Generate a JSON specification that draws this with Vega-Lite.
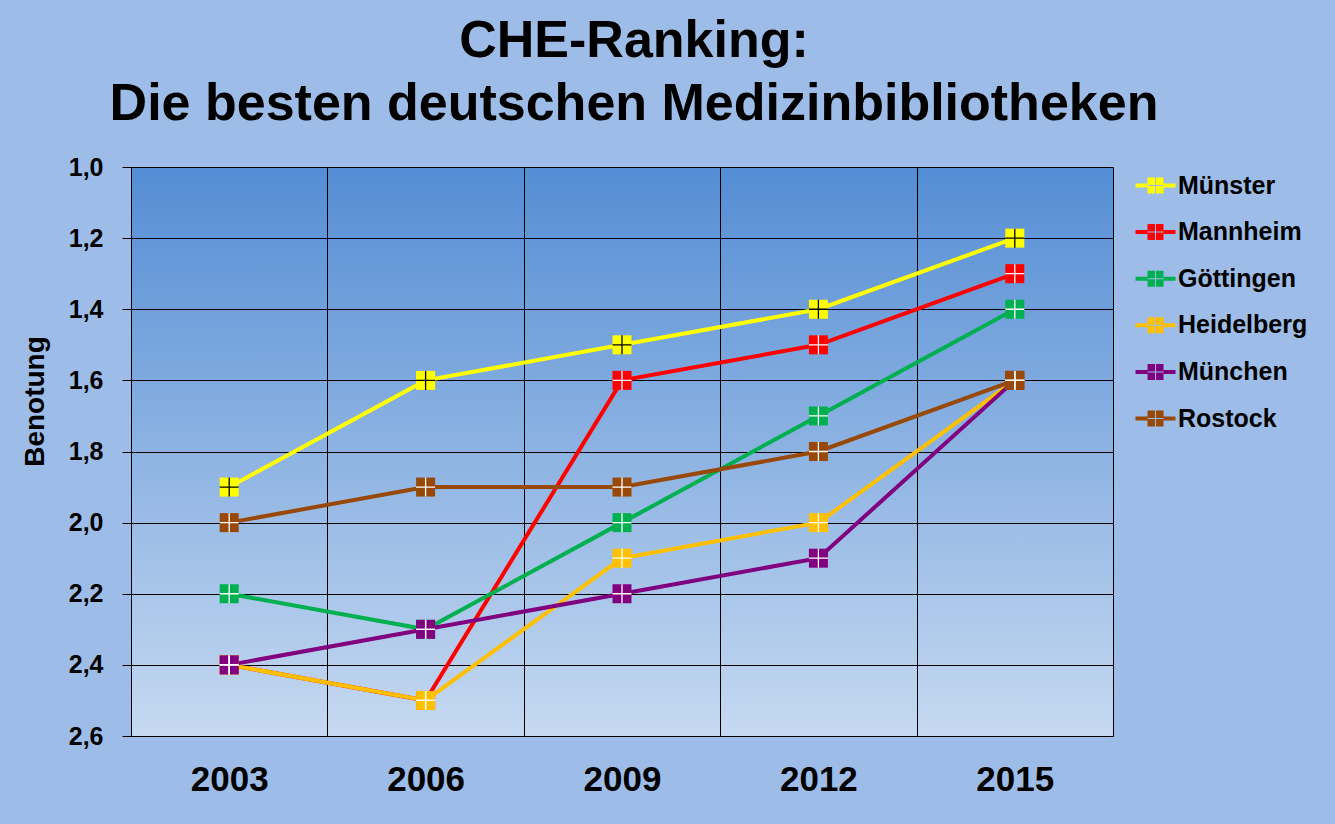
{
  "$schema": "https://vega.github.io/schema/vega-lite/v6.json",
  "autosize": {"type": "none"},
  "padding": {"left": 131, "top": 167, "right": 222, "bottom": 88},
  "width": 982,
  "height": 569,
  "background": "#9dbde8",
  "title": {
    "text": ["CHE-Ranking:", "Die besten deutschen Medizinbibliotheken"],
    "font": "Liberation Sans",
    "fontSize": 52,
    "fontWeight": "bold",
    "lineHeight": 63,
    "color": "black",
    "anchor": "middle",
    "frame": "group",
    "dx": 12,
    "offset": 24
  },
  "config": {
    "view": {
      "stroke": "#808080",
      "strokeWidth": 1,
      "fill": {
        "gradient": "linear",
        "x1": 0, "y1": 0, "x2": 0, "y2": 1,
        "stops": [
          {"offset": 0, "color": "#548dd4"},
          {"offset": 1, "color": "#c6d9f1"}
        ]
      }
    },
    "axis": {
      "labelFont": "Liberation Sans",
      "titleFont": "Liberation Sans",
      "labelColor": "black",
      "titleColor": "black",
      "gridColor": "black",
      "gridOpacity": 1,
      "gridWidth": 1,
      "domainColor": "black",
      "tickColor": "black"
    },
    "legend": {
      "labelFont": "Liberation Sans"
    }
  },
  "data": {
    "values": [
      {"city": "Münster", "year": "2003", "note": 1.9},
      {"city": "Münster", "year": "2006", "note": 1.6},
      {"city": "Münster", "year": "2009", "note": 1.5},
      {"city": "Münster", "year": "2012", "note": 1.4},
      {"city": "Münster", "year": "2015", "note": 1.2},
      {"city": "Mannheim", "year": "2003", "note": 2.4},
      {"city": "Mannheim", "year": "2006", "note": 2.5},
      {"city": "Mannheim", "year": "2009", "note": 1.6},
      {"city": "Mannheim", "year": "2012", "note": 1.5},
      {"city": "Mannheim", "year": "2015", "note": 1.3},
      {"city": "Göttingen", "year": "2003", "note": 2.2},
      {"city": "Göttingen", "year": "2006", "note": 2.3},
      {"city": "Göttingen", "year": "2009", "note": 2.0},
      {"city": "Göttingen", "year": "2012", "note": 1.7},
      {"city": "Göttingen", "year": "2015", "note": 1.4},
      {"city": "Heidelberg", "year": "2003", "note": 2.4},
      {"city": "Heidelberg", "year": "2006", "note": 2.5},
      {"city": "Heidelberg", "year": "2009", "note": 2.1},
      {"city": "Heidelberg", "year": "2012", "note": 2.0},
      {"city": "Heidelberg", "year": "2015", "note": 1.6},
      {"city": "München", "year": "2003", "note": 2.4},
      {"city": "München", "year": "2006", "note": 2.3},
      {"city": "München", "year": "2009", "note": 2.2},
      {"city": "München", "year": "2012", "note": 2.1},
      {"city": "München", "year": "2015", "note": 1.6},
      {"city": "Rostock", "year": "2003", "note": 2.0},
      {"city": "Rostock", "year": "2006", "note": 1.9},
      {"city": "Rostock", "year": "2009", "note": 1.9},
      {"city": "Rostock", "year": "2012", "note": 1.8},
      {"city": "Rostock", "year": "2015", "note": 1.6}
    ]
  },
  "encoding": {
    "x": {
      "field": "year",
      "type": "ordinal",
      "scale": {"type": "band", "paddingInner": 0, "paddingOuter": 0},
      "axis": {
        "title": null,
        "labelAngle": 0,
        "labelFontSize": 35,
        "labelFontWeight": "bold",
        "labelPadding": 26,
        "ticks": false,
        "tickBand": "extent",
        "grid": true,
        "domain": true
      }
    },
    "y": {
      "field": "note",
      "type": "quantitative",
      "scale": {"domain": [1.0, 2.6], "reverse": true, "nice": false, "zero": false},
      "axis": {
        "title": "Benotung",
        "titleFontSize": 28,
        "titleFontWeight": "bold",
        "titleAngle": 270,
        "titleX": -88,
        "titleY": 234,
        "titleAlign": "center",
        "titleBaseline": "alphabetic",
        "values": [1.0, 1.2, 1.4, 1.6, 1.8, 2.0, 2.2, 2.4, 2.6],
        "labelExpr": "replace(format(datum.value, '.1f'), '.', ',')",
        "labelFontSize": 25,
        "labelFontWeight": "bold",
        "labelPadding": 19,
        "tickSize": 9,
        "grid": true
      }
    }
  },
  "layer": [
    {
      "mark": {"type": "line", "strokeWidth": 4},
      "encoding": {
        "color": {
          "field": "city",
          "type": "nominal",
          "scale": {
            "domain": ["Münster", "Mannheim", "Göttingen", "Heidelberg", "München", "Rostock"],
            "range": ["#ffff00", "#ff0000", "#00b050", "#ffc000", "#800080", "#984807"]
          },
          "legend": {
            "title": null,
            "orient": "right",
            "offset": 24,
            "padding": 6,
            "labelFontSize": 25,
            "labelFontWeight": "bold",
            "labelColor": "black",
            "labelOffset": 10,
            "rowPadding": 20.6,
            "symbolType": "M-2,-0.2H-0.8V0.2H-2Z M0.8,-0.2H2V0.2H0.8Z M-0.8,-0.8H-0.05V-0.05H-0.8Z M0.05,-0.8H0.8V-0.05H0.05Z M-0.8,0.05H-0.05V0.8H-0.8Z M0.05,0.05H0.8V0.8H0.05Z",
            "symbolSize": 400,
            "symbolStrokeWidth": 0,
            "encode": {
              "symbols": {
                "update": {
                  "fill": {"scale": "color", "field": "value"},
                  "fillOpacity": {"value": 1},
                  "strokeWidth": {"value": 0}
                }
              }
            }
          }
        }
      }
    },
    {
      "mark": {"type": "point", "shape": "square", "filled": true, "size": 361, "opacity": 1},
      "encoding": {
        "color": {"field": "city", "type": "nominal"}
      }
    },
    {
      "mark": {"type": "point", "shape": "M-1,0H1M0,-1V1", "filled": false, "size": 361, "strokeWidth": 1.3, "opacity": 1},
      "encoding": {
        "stroke": {
          "condition": {"test": "datum.city === 'Münster'", "value": "black"},
          "value": "white"
        }
      }
    }
  ]
}
